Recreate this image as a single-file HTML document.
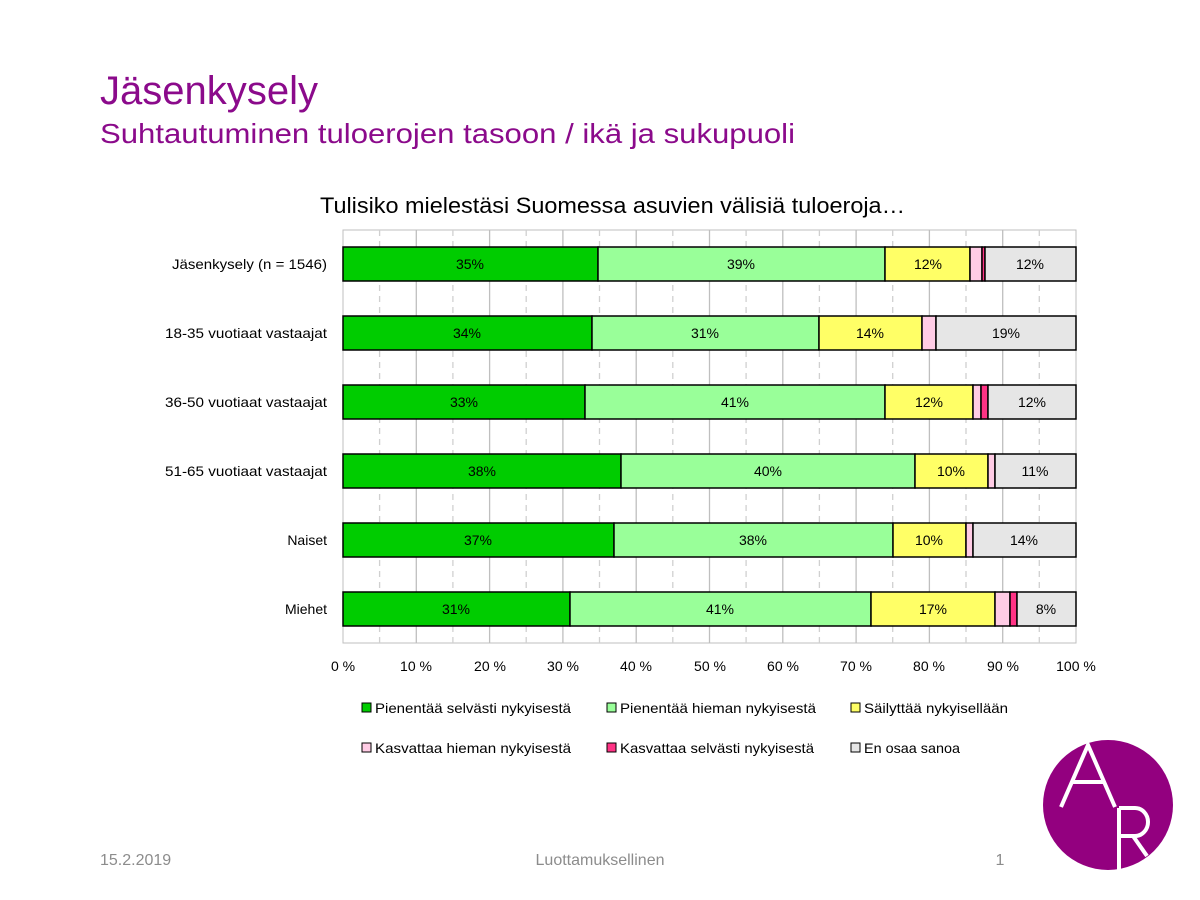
<!DOCTYPE html>
<html><head><meta charset="utf-8"><style>
body{margin:0;background:#fff;}
svg{display:block;font-family:"Liberation Sans",sans-serif;}
</style></head><body>
<svg width="1200" height="900" viewBox="0 0 1200 900" xmlns="http://www.w3.org/2000/svg">
<text x="100" y="104" font-size="40" fill="#8B0A8B" textLength="218" lengthAdjust="spacingAndGlyphs">Jäsenkysely</text>
<text x="100" y="143" font-size="28" fill="#8B0A8B" textLength="695" lengthAdjust="spacingAndGlyphs">Suhtautuminen tuloerojen tasoon / ikä ja sukupuoli</text>
<text x="320" y="213" font-size="22" fill="#000" textLength="585" lengthAdjust="spacingAndGlyphs">Tulisiko mielestäsi Suomessa asuvien välisiä tuloeroja…</text>
<rect x="343" y="230" width="733" height="413" fill="none" stroke="#bfbfbf" stroke-width="1"/>
<g stroke="#bfbfbf" stroke-width="1.3">
<line x1="416.3" y1="230" x2="416.3" y2="643"/><line x1="489.6" y1="230" x2="489.6" y2="643"/><line x1="562.9" y1="230" x2="562.9" y2="643"/><line x1="636.2" y1="230" x2="636.2" y2="643"/><line x1="709.5" y1="230" x2="709.5" y2="643"/><line x1="782.8" y1="230" x2="782.8" y2="643"/><line x1="856.1" y1="230" x2="856.1" y2="643"/><line x1="929.4" y1="230" x2="929.4" y2="643"/><line x1="1002.7" y1="230" x2="1002.7" y2="643"/>
</g>
<g stroke="#d0d0d0" stroke-width="1.3" stroke-dasharray="6,5">
<line x1="379.6" y1="230" x2="379.6" y2="643"/><line x1="452.9" y1="230" x2="452.9" y2="643"/><line x1="526.2" y1="230" x2="526.2" y2="643"/><line x1="599.5" y1="230" x2="599.5" y2="643"/><line x1="672.8" y1="230" x2="672.8" y2="643"/><line x1="746.1" y1="230" x2="746.1" y2="643"/><line x1="819.4" y1="230" x2="819.4" y2="643"/><line x1="892.7" y1="230" x2="892.7" y2="643"/><line x1="966" y1="230" x2="966" y2="643"/><line x1="1039.3" y1="230" x2="1039.3" y2="643"/>
</g>
<g stroke="#000" stroke-width="1.5">
<rect x="343" y="247" width="255" height="34" fill="#00CC00"/>
<rect x="598" y="247" width="287" height="34" fill="#99FF99"/>
<rect x="885" y="247" width="85" height="34" fill="#FFFF66"/>
<rect x="970" y="247" width="12" height="34" fill="#FFCCE5"/>
<rect x="982" y="247" width="3" height="34" fill="#FF3385"/>
<rect x="985" y="247" width="91" height="34" fill="#E6E6E6"/>
<rect x="343" y="316" width="249" height="34" fill="#00CC00"/>
<rect x="592" y="316" width="227" height="34" fill="#99FF99"/>
<rect x="819" y="316" width="103" height="34" fill="#FFFF66"/>
<rect x="922" y="316" width="14" height="34" fill="#FFCCE5"/>
<rect x="936" y="316" width="140" height="34" fill="#E6E6E6"/>
<rect x="343" y="385" width="242" height="34" fill="#00CC00"/>
<rect x="585" y="385" width="300" height="34" fill="#99FF99"/>
<rect x="885" y="385" width="88" height="34" fill="#FFFF66"/>
<rect x="973" y="385" width="8" height="34" fill="#FFCCE5"/>
<rect x="981" y="385" width="7" height="34" fill="#FF3385"/>
<rect x="988" y="385" width="88" height="34" fill="#E6E6E6"/>
<rect x="343" y="454" width="278" height="34" fill="#00CC00"/>
<rect x="621" y="454" width="294" height="34" fill="#99FF99"/>
<rect x="915" y="454" width="73" height="34" fill="#FFFF66"/>
<rect x="988" y="454" width="7" height="34" fill="#FFCCE5"/>
<rect x="995" y="454" width="81" height="34" fill="#E6E6E6"/>
<rect x="343" y="523" width="271" height="34" fill="#00CC00"/>
<rect x="614" y="523" width="279" height="34" fill="#99FF99"/>
<rect x="893" y="523" width="73" height="34" fill="#FFFF66"/>
<rect x="966" y="523" width="7" height="34" fill="#FFCCE5"/>
<rect x="973" y="523" width="103" height="34" fill="#E6E6E6"/>
<rect x="343" y="592" width="227" height="34" fill="#00CC00"/>
<rect x="570" y="592" width="301" height="34" fill="#99FF99"/>
<rect x="871" y="592" width="124" height="34" fill="#FFFF66"/>
<rect x="995" y="592" width="15" height="34" fill="#FFCCE5"/>
<rect x="1010" y="592" width="7" height="34" fill="#FF3385"/>
<rect x="1017" y="592" width="59" height="34" fill="#E6E6E6"/>
</g>
<g font-size="14" text-anchor="middle" fill="#000">
<text x="470" y="269">35%</text><text x="741" y="269">39%</text><text x="928" y="269">12%</text><text x="1030" y="269">12%</text>
<text x="467" y="338">34%</text><text x="705" y="338">31%</text><text x="870" y="338">14%</text><text x="1006" y="338">19%</text>
<text x="464" y="407">33%</text><text x="735" y="407">41%</text><text x="929" y="407">12%</text><text x="1032" y="407">12%</text>
<text x="482" y="476">38%</text><text x="768" y="476">40%</text><text x="951" y="476">10%</text><text x="1035" y="476">11%</text>
<text x="478" y="545">37%</text><text x="753" y="545">38%</text><text x="929" y="545">10%</text><text x="1024" y="545">14%</text>
<text x="456" y="614">31%</text><text x="720" y="614">41%</text><text x="933" y="614">17%</text><text x="1046" y="614">8%</text>
</g>
<g font-size="14" text-anchor="end" fill="#000">
<text x="327" y="269" textLength="155" lengthAdjust="spacingAndGlyphs">Jäsenkysely (n = 1546)</text>
<text x="327" y="338" textLength="162" lengthAdjust="spacingAndGlyphs">18-35 vuotiaat vastaajat</text>
<text x="327" y="407" textLength="162" lengthAdjust="spacingAndGlyphs">36-50 vuotiaat vastaajat</text>
<text x="327" y="476" textLength="162" lengthAdjust="spacingAndGlyphs">51-65 vuotiaat vastaajat</text>
<text x="327" y="545">Naiset</text>
<text x="327" y="614">Miehet</text>
</g>
<g font-size="14" text-anchor="middle" fill="#000">
<text x="343" y="671">0 %</text><text x="416" y="671">10 %</text><text x="490" y="671">20 %</text><text x="563" y="671">30 %</text><text x="636" y="671">40 %</text><text x="710" y="671">50 %</text><text x="783" y="671">60 %</text><text x="856" y="671">70 %</text><text x="929" y="671">80 %</text><text x="1003" y="671">90 %</text><text x="1076" y="671">100 %</text>
</g>
<g stroke="#000" stroke-width="1">
<rect x="362" y="703" width="9" height="9" fill="#00CC00"/>
<rect x="607" y="703" width="9" height="9" fill="#99FF99"/>
<rect x="851" y="703" width="9" height="9" fill="#FFFF66"/>
<rect x="362" y="743" width="9" height="9" fill="#FFCCE5"/>
<rect x="607" y="743" width="9" height="9" fill="#FF3385"/>
<rect x="851" y="743" width="9" height="9" fill="#E6E6E6"/>
</g>
<g font-size="14" fill="#000">
<text x="375" y="713" textLength="196" lengthAdjust="spacingAndGlyphs">Pienentää selvästi nykyisestä</text>
<text x="620" y="713" textLength="196" lengthAdjust="spacingAndGlyphs">Pienentää hieman nykyisestä</text>
<text x="864" y="713" textLength="144" lengthAdjust="spacingAndGlyphs">Säilyttää nykyisellään</text>
<text x="375" y="753" textLength="196" lengthAdjust="spacingAndGlyphs">Kasvattaa hieman nykyisestä</text>
<text x="620" y="753" textLength="194" lengthAdjust="spacingAndGlyphs">Kasvattaa selvästi nykyisestä</text>
<text x="864" y="753" textLength="96" lengthAdjust="spacingAndGlyphs">En osaa sanoa</text>
</g>
<g font-size="16" fill="#8c8c8c">
<text x="100" y="865">15.2.2019</text>
<text x="600" y="865" text-anchor="middle">Luottamuksellinen</text>
<text x="1000" y="865" text-anchor="middle">1</text>
</g>
<circle cx="1108" cy="805" r="65" fill="#93007F"/>
<g stroke="#fff" stroke-width="4" fill="none">
<polyline points="1061,807 1088,745 1115,807"/>
<line x1="1072" y1="782" x2="1104" y2="782"/>
<line x1="1119" y1="808" x2="1119" y2="870"/>
<path d="M1119,808 L1135,808 A13,14 0 0 1 1135,836 L1119,836"/>
<line x1="1133" y1="836" x2="1147" y2="856"/>
</g>
</svg>
</body></html>
